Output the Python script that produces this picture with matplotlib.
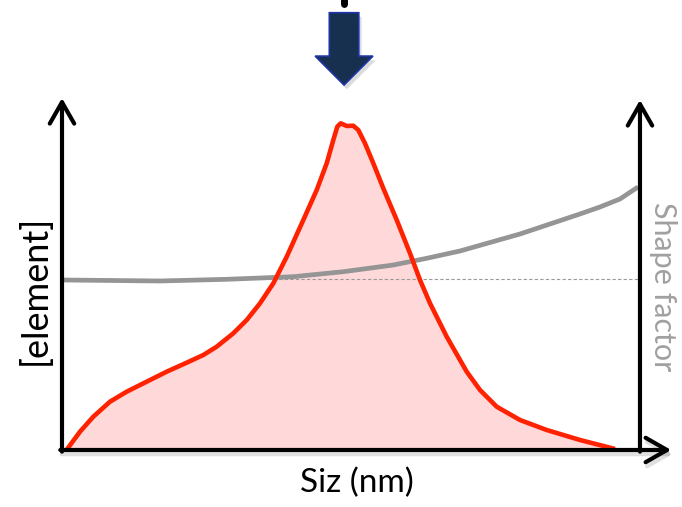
import numpy as np
import matplotlib.pyplot as plt
import matplotlib.patches as mpatches
import matplotlib.patheffects as pe

# size distribution (arbitrary units, size on 0..100 scale)
size = [0.78, 3.11, 5.42, 8.30, 11.19, 14.65, 18.11, 21.57, 24.45, 26.76,
        29.64, 31.96, 34.26, 36.56, 38.88, 41.75, 44.07, 45.80, 46.94, 47.63,
        48.22, 49.26, 50.40, 51.26, 52.42, 53.86, 55.59, 57.91, 60.21, 61.94,
        63.67, 66.56, 70.02, 72.32, 75.21, 79.24, 83.86, 89.62, 95.68]
conc = [0.0, 5.63, 10.25, 14.86, 17.94, 21.02, 24.09, 26.86, 29.23, 31.78,
        35.91, 40.0, 45.14, 51.29, 59.48, 70.77, 80.0, 88.22, 95.38, 99.48,
        100.52, 99.69, 99.78, 98.46, 94.37, 88.22, 80.52, 70.77, 60.52, 52.31,
        45.14, 34.86, 24.09, 18.46, 13.32, 9.23, 6.15, 3.08, 0.31]

# shape factor curve on the same vertical scale
shape_x = [0, 16.96, 28.5, 40.02, 48.67, 57.32, 63.1, 68.86, 79.24, 89.62,
           93.08, 96.54, 99.65]
shape_y = [52.31, 52.0, 52.52, 53.32, 54.86, 56.92, 58.98, 61.23, 66.46,
           72.62, 74.77, 77.23, 80.92]
shape_ref = 52.62

fig = plt.figure(figsize=(6.82, 5.07), dpi=100)
ax = fig.add_axes([0, 0, 1, 1])
ax.set_xlim(-10.727, 107.27)
ax.set_ylim(-17.54, 138.46)
ax.axis('off')

font = ['Lato', 'DejaVu Sans']
shadow = [pe.SimplePatchShadow(offset=(2, -3), alpha=0.15), pe.Normal()]

# axes with open arrowheads
arrow_kw = dict(arrowstyle='->,head_length=0.7,head_width=0.4', lw=3.0,
                color='black', shrinkA=0, shrinkB=0, mutation_scale=22,
                capstyle='round', joinstyle='round')
ax.annotate('', xy=(0, 108.3), xytext=(0, -0.5), arrowprops=arrow_kw)
ax.annotate('', xy=(100, 107.7), xytext=(100, -0.5), arrowprops=arrow_kw)
ax.annotate('', xy=(105.4, 0), xytext=(-0.3, 0),
            arrowprops=dict(arrow_kw, path_effects=[
                pe.SimpleLineShadow(offset=(1, -3), alpha=0.12), pe.Normal()]))

# shape factor reference
ax.plot([0, 100], [shape_ref, shape_ref], ls=(0, (3, 2)), lw=0.8, color='#999999')
ax.plot(shape_x, shape_y, color='#959595', lw=3.4, solid_capstyle='butt',
        solid_joinstyle='round')

# distribution
ax.fill_between(size, conc, 0, color='#ffd9d9', lw=0)
ax.plot(size, conc, color='#ff2200', lw=3.3, solid_capstyle='butt',
        solid_joinstyle='round')

# marker arrow above the peak
ax.plot([48.8, 48.8], [137.2, 138.5], color='black', lw=5, solid_capstyle='round')
arr = mpatches.FancyArrow(48.8, 134.55, 0, -22.25, width=5.1, head_width=10,
                          head_length=8.9, length_includes_head=True,
                          facecolor='#17304f', edgecolor='#1e33a6', lw=1.2)
arr.set_path_effects(shadow)
ax.add_patch(arr)

ax.text(-4.8, 49.2, '[element]', rotation=90, ha='center', va='center',
        fontsize=26, family=font)
ax.text(103.9, 50.2, 'Shape factor', rotation=-90, ha='center', va='center',
        fontsize=22, family=font, color='#a0a0a0')
ax.text(51, -12.9, 'Siz (nm)', ha='center', va='baseline', fontsize=24,
        family=font)

fig.savefig('out.png', dpi=100)
